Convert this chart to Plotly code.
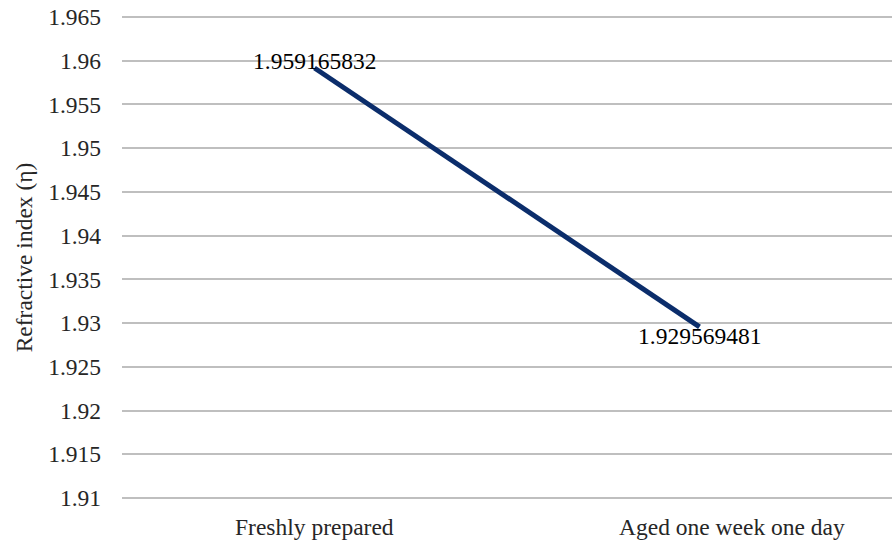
import plotly.graph_objects as go

# Refractive index of the sample, fresh vs. after ageing
categories = ["Freshly prepared", "Aged one week one day"]
refractive_index = [1.959165832, 1.929569481]
value_labels = ["1.959165832", "1.929569481"]

y_ticks = [1.91, 1.915, 1.92, 1.925, 1.93, 1.935, 1.94, 1.945, 1.95, 1.955, 1.96, 1.965]
y_tick_labels = ["1.91", "1.915", "1.92", "1.925", "1.93", "1.935", "1.94", "1.945",
                 "1.95", "1.955", "1.96", "1.965"]

FONT = "Times New Roman, Liberation Serif, serif"
TEXT_COLOR = "#262626"
LINE_COLOR = "#0B2D6B"
FS = 23.5

fig = go.Figure()
fig.add_trace(go.Scatter(
    x=[0, 1],
    y=refractive_index,
    mode="lines",
    line=dict(color=LINE_COLOR, width=5),
    hoverinfo="skip",
    showlegend=False,
))

# value labels sitting on the line ends
label_yshift = [7, -9]
annotations = []
for i, (v, t) in enumerate(zip(refractive_index, value_labels)):
    annotations.append(dict(
        x=i, y=v, xref="x", yref="y", text=t, showarrow=False,
        yshift=label_yshift[i],
        font=dict(family=FONT, size=FS, color="#000000"),
    ))

# category labels under the plot
cat_xshift = [0, 32]
for i, c in enumerate(categories):
    annotations.append(dict(
        x=i, y=0, xref="x", yref="paper", text=c, showarrow=False,
        yanchor="top", yshift=-12, xshift=cat_xshift[i],
        font=dict(family=FONT, size=FS, color=TEXT_COLOR),
    ))

fig.update_layout(
    width=892, height=545,
    margin=dict(l=122, r=0, t=15, b=45),
    paper_bgcolor="white",
    plot_bgcolor="white",
    font=dict(family=FONT, size=FS, color=TEXT_COLOR),
    annotations=annotations,
    xaxis=dict(
        range=[-0.5, 1.5],
        tickvals=[0, 1],
        showticklabels=False,
        showgrid=False,
        zeroline=False,
        showline=False,
        fixedrange=True,
    ),
    yaxis=dict(
        range=[1.90977, 1.96523],
        tickvals=y_ticks,
        ticktext=y_tick_labels,
        showgrid=True,
        gridcolor="#BFBFBF",
        gridwidth=2,
        zeroline=False,
        showline=False,
        ticks="",
        ticklabelstandoff=20,
        title=dict(text="Refractive index (η)", standoff=8,
                   font=dict(family=FONT, size=FS, color=TEXT_COLOR)),
        tickfont=dict(family=FONT, size=FS, color=TEXT_COLOR),
    ),
)

fig.write_html("out.html")
